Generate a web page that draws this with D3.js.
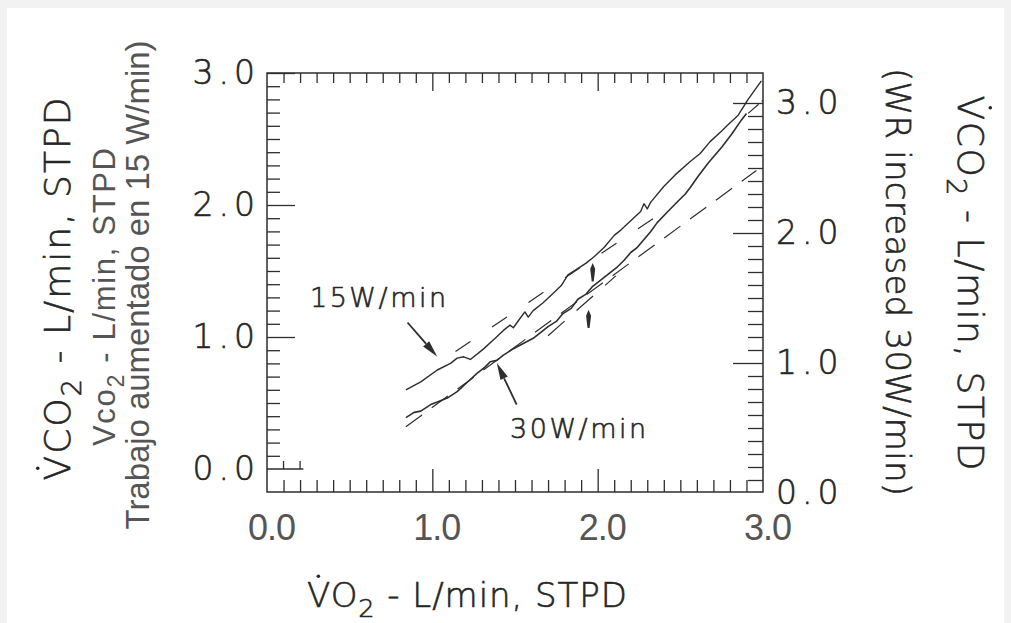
<!DOCTYPE html>
<html>
<head>
<meta charset="utf-8">
<script src="https://cdn.jsdelivr.net/npm/d3@7"></script>
<style>
  html, body { margin: 0; padding: 0; background: #f2f2f2; }
  svg { display: block; }
  .plain { font-family: "Liberation Sans", Arial, sans-serif; }
  .thin { font-family: "DejaVu Sans", sans-serif; font-weight: 200; stroke: #262626; stroke-width: 0.6px; }
</style>
</head>
<body>
<svg id="chart" width="1011" height="623"></svg>
<script>
// ---------------- data ----------------
const vo2TickLabels = [0, 1, 2, 3];
const vco2TickLabels = [0, 1, 2, 3];

// 15 W/min ramp (read against the left VCO2 axis)
const ramp15VO2  = [0.84,0.93,1.03,1.11,1.15,1.19,1.23,1.31,1.38,1.43,1.47,1.49,1.53,1.56,1.58,1.61,1.67,1.73,1.78,1.82,1.87,1.93,1.98,2.04,2.10,2.14,2.20,2.26,2.28,2.30,2.32,2.40,2.47,2.56,2.62,2.68,2.75,2.79,2.85,2.91,2.99];
const ramp15VCO2 = [0.60,0.66,0.75,0.80,0.84,0.85,0.83,0.91,0.99,1.05,1.09,1.07,1.14,1.19,1.15,1.20,1.26,1.33,1.39,1.47,1.51,1.56,1.61,1.68,1.77,1.81,1.88,1.95,2.01,1.97,2.02,2.14,2.23,2.33,2.39,2.48,2.56,2.61,2.68,2.80,2.94];

// 30 W/min ramp (read against the right VCO2 axis)
const ramp30VO2  = [0.84,0.89,0.93,0.99,1.03,1.09,1.15,1.21,1.27,1.32,1.35,1.39,1.43,1.49,1.55,1.61,1.66,1.70,1.75,1.79,1.84,1.88,1.93,1.97,2.02,2.07,2.12,2.16,2.20,2.24,2.28,2.32,2.36,2.42,2.49,2.53,2.56,2.61,2.67,2.71,2.75,2.81,2.87,2.90];
const ramp30VCO2 = [0.58,0.62,0.63,0.68,0.70,0.73,0.78,0.85,0.92,0.97,1.01,1.02,1.06,1.11,1.15,1.19,1.24,1.28,1.32,1.38,1.42,1.49,1.53,1.59,1.64,1.69,1.74,1.79,1.85,1.89,1.95,2.01,2.08,2.16,2.25,2.30,2.35,2.44,2.54,2.60,2.66,2.76,2.87,2.92];

// dashed slope fits: [start, end]
const fit30LowVO2  = [0.84, 2.96], fit30LowVCO2  = [0.51, 2.48];   // right axis
const fit15LowVO2  = [1.14, 2.41], fit15LowVCO2  = [0.89, 1.96];   // left axis
const fit30HighVO2 = [1.70, 2.11], fit30HighVCO2 = [1.21, 1.67];   // right axis
const fit30TopVO2  = [2.91, 3.00], fit30TopVCO2  = [2.92, 3.02];   // right axis

// threshold markers (small upward arrows)
const mark15VO2 = 1.97, mark15VCO2 = [1.42, 1.56];   // left axis
const mark30VO2 = 1.945, mark30VCO2 = [1.27, 1.41];  // right axis

// callout labels and their arrows
const label15 = { text: "15W/min", vo2: 0.26, vco2: 1.23, tail: [0.85, 1.11], head: [1.03, 0.85] };
const label30 = { text: "30W/min", vo2: 1.47, vco2: 0.42, tail: [1.51, 0.68], head: [1.39, 1.00] };

// ---------------- drawing ----------------
const ink = "#2e2e2e";
const textInk = "#262626";
const plainInk = "#555555";
const svg = d3.select("#chart");

svg.append("rect").attr("x", 7).attr("y", 8).attr("width", 997).attr("height", 615).attr("fill", "#ffffff");

const x  = d3.scaleLinear().domain([0, 3]).range([267, 763]);
const yL = d3.scaleLinear().domain([0, 3]).range([469, 73]);
const yR = d3.scaleLinear().domain([0, 3]).range([493, 103]);

const minorVals = d3.range(0, 31).filter(i => i % 10 !== 0).map(i => i / 10);

function tickAxis(axisFn, scale, vals, size, tx, ty) {
  const g = svg.append("g").attr("transform", `translate(${tx},${ty})`)
    .call(axisFn(scale).tickValues(vals).tickSize(size).tickFormat(""));
  g.select(".domain").remove();
  g.selectAll(".tick line").attr("stroke", ink).attr("stroke-width", 1.3);
  return g;
}

// left axis ticks (pointing inward)
tickAxis(d3.axisRight, yL, minorVals, 13, 267, 0);
tickAxis(d3.axisRight, yL, [1, 2, 3], 28, 267, 0);
// top axis ticks
tickAxis(d3.axisBottom, x, minorVals, 10, 0, 73);
tickAxis(d3.axisBottom, x, [1, 2], 18, 0, 73);
// bottom axis ticks
tickAxis(d3.axisTop, x, minorVals, 12, 0, 492);
tickAxis(d3.axisTop, x, [1, 2], 23, 0, 492);
// right axis ticks
tickAxis(d3.axisLeft, yR, minorVals, 15, 763, 0);
tickAxis(d3.axisLeft, yR, [1, 2, 3], 30, 763, 0);

// frame
svg.append("path")
  .attr("d", `M${x(0)},${yL(3)}H${x(3)}V492H${x(0)}Z`)
  .attr("fill", "none").attr("stroke", ink).attr("stroke-width", 1.5);

// short baseline stub of the left-axis zero
svg.append("path")
  .attr("d", `M${x(0)},${yL(0)}H${x(0.22)}M${x(0.1)},${yL(0)}v-8M${x(0.2)},${yL(0)}v-8`)
  .attr("fill", "none").attr("stroke", ink).attr("stroke-width", 1.3);

// tick labels
const fmt = d3.format(".1f");
function labelAxis(axisFn, scale, vals, pad, tx, ty, style) {
  const g = svg.append("g").attr("transform", `translate(${tx},${ty})`)
    .call(axisFn(scale).tickValues(vals).tickSize(0).tickPadding(pad).tickFormat(fmt))
    .attr("font-family", null).attr("font-size", null);
  g.select(".domain").remove();
  g.selectAll(".tick line").remove();
  g.selectAll("text").attr("class", style.cls).attr("fill", style.fill)
    .style("font-size", style.size + "px").attr("letter-spacing", style.spacing || 0);
  return g;
}
labelAxis(d3.axisLeft, yL, vco2TickLabels, 7, 267, 0, { cls: "thin", size: 33, spacing: 5, fill: textInk });
labelAxis(d3.axisRight, yR, vco2TickLabels, 13, 763, 0, { cls: "thin", size: 33, spacing: 5, fill: textInk });
const bottomLabels = labelAxis(d3.axisBottom, x, vo2TickLabels, 0, 0, 492, { cls: "plain", size: 36, spacing: -1, fill: plainInk });
bottomLabels.selectAll("text").attr("y", 48).attr("dy", 0).attr("x", 4);

// axis titles
function addTitle(cfg) {
  const g = svg.append("g").attr("transform", `translate(${cfg.x},${cfg.y}) rotate(${cfg.rotate || 0})`);
  const t = g.append("text").attr("class", cfg.cls).attr("text-anchor", "middle")
    .style("font-size", cfg.size + "px").attr("fill", cfg.fill || textInk);
  let shift = 0;
  cfg.parts.forEach(p => {
    const s = t.append("tspan").text(p.text);
    if (p.sub) {
      const d = cfg.size * 0.3;
      s.style("font-size", (cfg.size * 0.75) + "px").attr("dy", d - shift);
      shift = d;
    } else if (shift) {
      s.attr("dy", -shift);
      shift = 0;
    }
  });
  if (cfg.length) t.attr("textLength", cfg.length).attr("lengthAdjust", cfg.adjust || "spacing");
  if (cfg.dot) {
    const e = t.node().getExtentOfChar(0);
    g.append("circle").attr("cx", e.x + e.width / 2).attr("cy", -cfg.size * 0.73 - 6)
      .attr("r", 1.8).attr("fill", textInk);
  }
}

const vco2Parts = [{ text: "VCO" }, { text: "2", sub: true }, { text: " - L/min, STPD" }];

addTitle({ x: 70, y: 289, rotate: -90, cls: "thin", size: 36, length: 383, parts: vco2Parts, dot: true });
addTitle({ x: 115, y: 297, rotate: -90, cls: "plain", size: 31, length: 298, fill: plainInk,
  parts: [{ text: "Vco" }, { text: "2", sub: true }, { text: " - L/min, STPD" }] });
addTitle({ x: 149, y: 285, rotate: -90, cls: "plain", size: 34, length: 489, adjust: "spacingAndGlyphs", fill: plainInk,
  parts: [{ text: "Trabajo aumentado en 15 W/min)" }] });

addTitle({ x: 958, y: 283, rotate: 90, cls: "thin", size: 36, length: 375, parts: vco2Parts, dot: true });
addTitle({ x: 886, y: 282, rotate: 90, cls: "thin", size: 34, length: 428,
  parts: [{ text: "(WR increased 30W/min)" }] });

addTitle({ x: 467, y: 607, rotate: 0, cls: "thin", size: 34, length: 320,
  parts: [{ text: "VO" }, { text: "2", sub: true }, { text: " - L/min, STPD" }], dot: true });

// curves
const line15 = d3.line().x(d => x(d[0])).y(d => yL(d[1]));
const line30 = d3.line().x(d => x(d[0])).y(d => yR(d[1]));

svg.append("path").datum(d3.zip(ramp15VO2, ramp15VCO2)).attr("d", line15)
  .attr("fill", "none").attr("stroke", ink).attr("stroke-width", 1.4).attr("stroke-linejoin", "round");
svg.append("path").datum(d3.zip(ramp30VO2, ramp30VCO2)).attr("d", line30)
  .attr("fill", "none").attr("stroke", ink).attr("stroke-width", 1.6).attr("stroke-linejoin", "round");

function dashed(vx, vy, lineFn, dash) {
  svg.append("path").datum(d3.zip(vx, vy)).attr("d", lineFn)
    .attr("fill", "none").attr("stroke", ink).attr("stroke-width", 1.2).attr("stroke-dasharray", dash);
}
dashed(fit30LowVO2, fit30LowVCO2, line30, "20,12");
dashed(fit15LowVO2, fit15LowVCO2, line15, "18,26");
dashed(fit30HighVO2, fit30HighVCO2, line30, "22,16");
dashed(fit30TopVO2, fit30TopVCO2, line30, "14,4");

// threshold markers
function marker(vo2, vco2, yScale) {
  const px = x(vo2), y0 = yScale(vco2[0]), y1 = yScale(vco2[1]);
  svg.append("path")
    .attr("d", `M${px},${y1}L${px + 2.5},${y1 + 6}L${px + 1},${y0}L${px - 1},${y0}L${px - 2.5},${y1 + 6}Z`)
    .attr("fill", ink);
}
marker(mark15VO2, mark15VCO2, yL);
marker(mark30VO2, mark30VCO2, yR);

// callouts
function callout(lbl, yScale) {
  svg.append("text").attr("class", "thin").attr("x", x(lbl.vo2)).attr("y", yScale(lbl.vco2))
    .style("font-size", "27px").attr("letter-spacing", 2.5).attr("fill", textInk).text(lbl.text);
  const tx = x(lbl.tail[0]), ty = yScale(lbl.tail[1]);
  const hx = x(lbl.head[0]), hy = yScale(lbl.head[1]);
  const ang = Math.atan2(hy - ty, hx - tx);
  const len = 17, hw = 4;
  const bx = hx - len * Math.cos(ang), by = hy - len * Math.sin(ang);
  svg.append("path").attr("d", `M${tx},${ty}L${bx},${by}`).attr("stroke", ink).attr("stroke-width", 1.8);
  svg.append("path")
    .attr("d", `M${hx},${hy}L${bx + hw * Math.sin(ang)},${by - hw * Math.cos(ang)}L${bx - hw * Math.sin(ang)},${by + hw * Math.cos(ang)}Z`)
    .attr("fill", ink);
}
callout(label15, yL);
callout(label30, yR);
</script>
</body>
</html>
